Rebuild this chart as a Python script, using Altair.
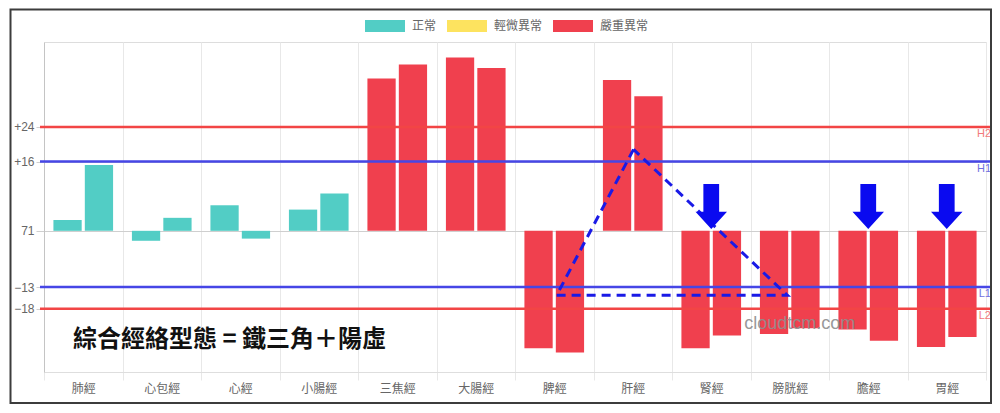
import altair as alt
import pandas as pd

categories = ["肺經", "心包經", "心經", "小腸經", "三焦經", "大腸經",
              "脾經", "肝經", "腎經", "膀胱經", "膽經", "胃經"]
left_values = [2.5, -2.3, 5.9, 4.9, 35.2, 40.0, -27.1, 34.8, -27.1, -23.8, -22.8, -26.8]
right_values = [15.2, 3.0, -1.8, 8.6, 38.4, 37.6, -28.1, 31.1, -24.2, -22.5, -25.4, -24.5]
status = ["正常", "正常", "正常", "正常", "嚴重異常", "嚴重異常",
          "嚴重異常", "嚴重異常", "嚴重異常", "嚴重異常", "嚴重異常", "嚴重異常"]

legend_labels = ["正常", "輕微異常", "嚴重異常"]
legend_colors = ["#52cdc5", "#fde35f", "#f0404e"]

y_ticks = [24, 16, 0, -13, -18]
y_domain = [-32.6, 43.6]

ref_values = [24, 16, -13, -18]
ref_names = ["H2", "H1", "L1", "L2"]
ref_colors = ["#f24545", "#4646e6", "#4646e6", "#f24545"]
ref_label_colors = ["#f27a7a", "#7070e0", "#7070e0", "#f27a7a"]

triangle_x = [7.51, 6.53, 9.47, 7.51]
triangle_y = [18.8, -14.9, -14.9, 18.8]

arrow_cats = ["腎經", "膽經", "胃經"]
arrow_y = [5.6, 5.6, 5.6]

note_text = "綜合經絡型態 = 鐵三角＋陽虛"
note_x = 0.37
note_y = -25.1

mark_text_str = "cloudtcm.com"
mark_x = 8.92
mark_y = -21.6

W, H = 942, 330
CJK = "Liberation Sans, Noto Sans CJK TC, sans-serif"

rows = []
for c, lv, rv, s in zip(categories, left_values, right_values, status):
    rows.append({"cat": c, "side": "L", "v": lv, "status": s})
    rows.append({"cat": c, "side": "R", "v": rv, "status": s})
bars_df = pd.DataFrame(rows)

yscale = alt.Scale(domain=y_domain, nice=False, zero=False)
xband = alt.Scale(domain=categories, paddingInner=0, paddingOuter=0)
xq = alt.Scale(domain=[0, 12], nice=False, zero=False)

legend_path = "M-1,-0.3L1,-0.3L1,0.3L-1,0.3Z"

bars = alt.Chart(bars_df).mark_bar(strokeWidth=1).encode(
    x=alt.X("cat:N", scale=xband, sort=categories, title=None,
            axis=alt.Axis(grid=True, tickBand="extent", gridColor="#e8e8e8",
                          tickColor="#e8e8e8", tickSize=8, domainColor="#dedede",
                          labelAngle=0, labelColor="#666", labelFontSize=12,
                          labelFont=CJK, labelPadding=3)),
    xOffset=alt.XOffset("side:N", sort=["L", "R"],
                        scale=alt.Scale(paddingInner=0.1, paddingOuter=0.3)),
    y=alt.Y("v:Q", scale=yscale, title=None,
            axis=alt.Axis(values=y_ticks, grid=True, gridColor="#cfcfcf",
                          tickColor="#cfcfcf", tickSize=8, domainColor="#c4c4c4",
                          labelColor="#666", labelFontSize=12, labelFont=CJK,
                          labelPadding=2,
                          labelExpr="datum.value == 0 ? '71' : (datum.value > 0 ? '+' + datum.value : datum.label)")),
    y2=alt.datum(0),
    color=alt.Color("status:N",
                    scale=alt.Scale(domain=legend_labels, range=legend_colors),
                    legend=alt.Legend(orient="none", legendX=321, legendY=-36,
                                      direction="horizontal", title=None,
                                      symbolType=legend_path, symbolSize=1600,
                                      labelFontSize=12, labelColor="#666",
                                      labelFont=CJK, columnPadding=10,
                                      labelOffset=7, symbolOpacity=1,
                                      symbolStrokeWidth=0)),
)

ref_df = pd.DataFrame({"v": ref_values, "name": ref_names,
                       "col": ref_colors, "lcol": ref_label_colors})
rules = alt.Chart(ref_df).mark_rule(strokeWidth=2.5).encode(
    y=alt.Y("v:Q", scale=yscale),
    x=alt.value(-4),
    x2=alt.value({"expr": "width + 5"}),
    color=alt.Color("col:N", scale=None),
)
rule_labels = alt.Chart(ref_df).mark_text(align="right", baseline="middle", dy=7,
                                          fontSize=11, font=CJK).encode(
    y=alt.Y("v:Q", scale=yscale),
    x=alt.value({"expr": "width + 5"}),
    text="name:N",
    color=alt.Color("lcol:N", scale=None),
)

tri_df = pd.DataFrame({"x": triangle_x, "y": triangle_y, "o": list(range(len(triangle_x)))})
triangle = alt.Chart(tri_df).mark_line(color="#1a1ae6", strokeWidth=3,
                                       strokeDash=[9, 6]).encode(
    x=alt.X("x:Q", scale=xq, axis=None),
    y=alt.Y("y:Q", scale=yscale),
    order="o:Q",
)

arrow_path = "M-0.35,-1L0.35,-1L0.35,0.23L0.7,0.23L0,1L-0.7,0.23L-0.35,0.23Z"
arrow_df = pd.DataFrame({"cat": arrow_cats, "y": arrow_y})
arrows = alt.Chart(arrow_df).mark_point(shape=arrow_path, size=2025, filled=True,
                                        color="#0a0af0", opacity=1).encode(
    x=alt.X("cat:N", scale=xband, sort=categories, axis=None),
    y=alt.Y("y:Q", scale=yscale),
)

note = alt.Chart(pd.DataFrame({"x": [note_x], "y": [note_y], "t": [note_text]})).mark_text(
    align="left", baseline="middle", fontSize=24, fontWeight="bold",
    font="Noto Sans CJK TC", color="#111").encode(
    x=alt.X("x:Q", scale=xq, axis=None),
    y=alt.Y("y:Q", scale=yscale),
    text="t:N",
)

wm = alt.Chart(pd.DataFrame({"x": [mark_x], "y": [mark_y], "t": [mark_text_str]})).mark_text(
    align="left", baseline="middle", fontSize=18, font="Liberation Sans",
    color="#8f8f8f", opacity=0.9).encode(
    x=alt.X("x:Q", scale=xq, axis=None),
    y=alt.Y("y:Q", scale=yscale),
    text="t:N",
)

frame = alt.Chart(alt.Data(values=[{}])).mark_rect(
    fillOpacity=0, stroke="#3c3c3c", strokeWidth=2).encode(
    x=alt.value(-33.5), x2=alt.value(947), y=alt.value(-32.5), y2=alt.value(361))

chart = alt.layer(bars, rules, rule_labels, triangle, arrows, note, wm, frame).resolve_scale(
    x="independent"
).properties(
    width=W, height=H,
    autosize=alt.AutoSizeParams(type="none"),
    padding={"left": 36, "top": 34, "right": 6, "bottom": 33},
).configure_view(stroke=None).configure(font=CJK)

chart.save("out.html", embed_options={"renderer": "svg", "actions": False})
